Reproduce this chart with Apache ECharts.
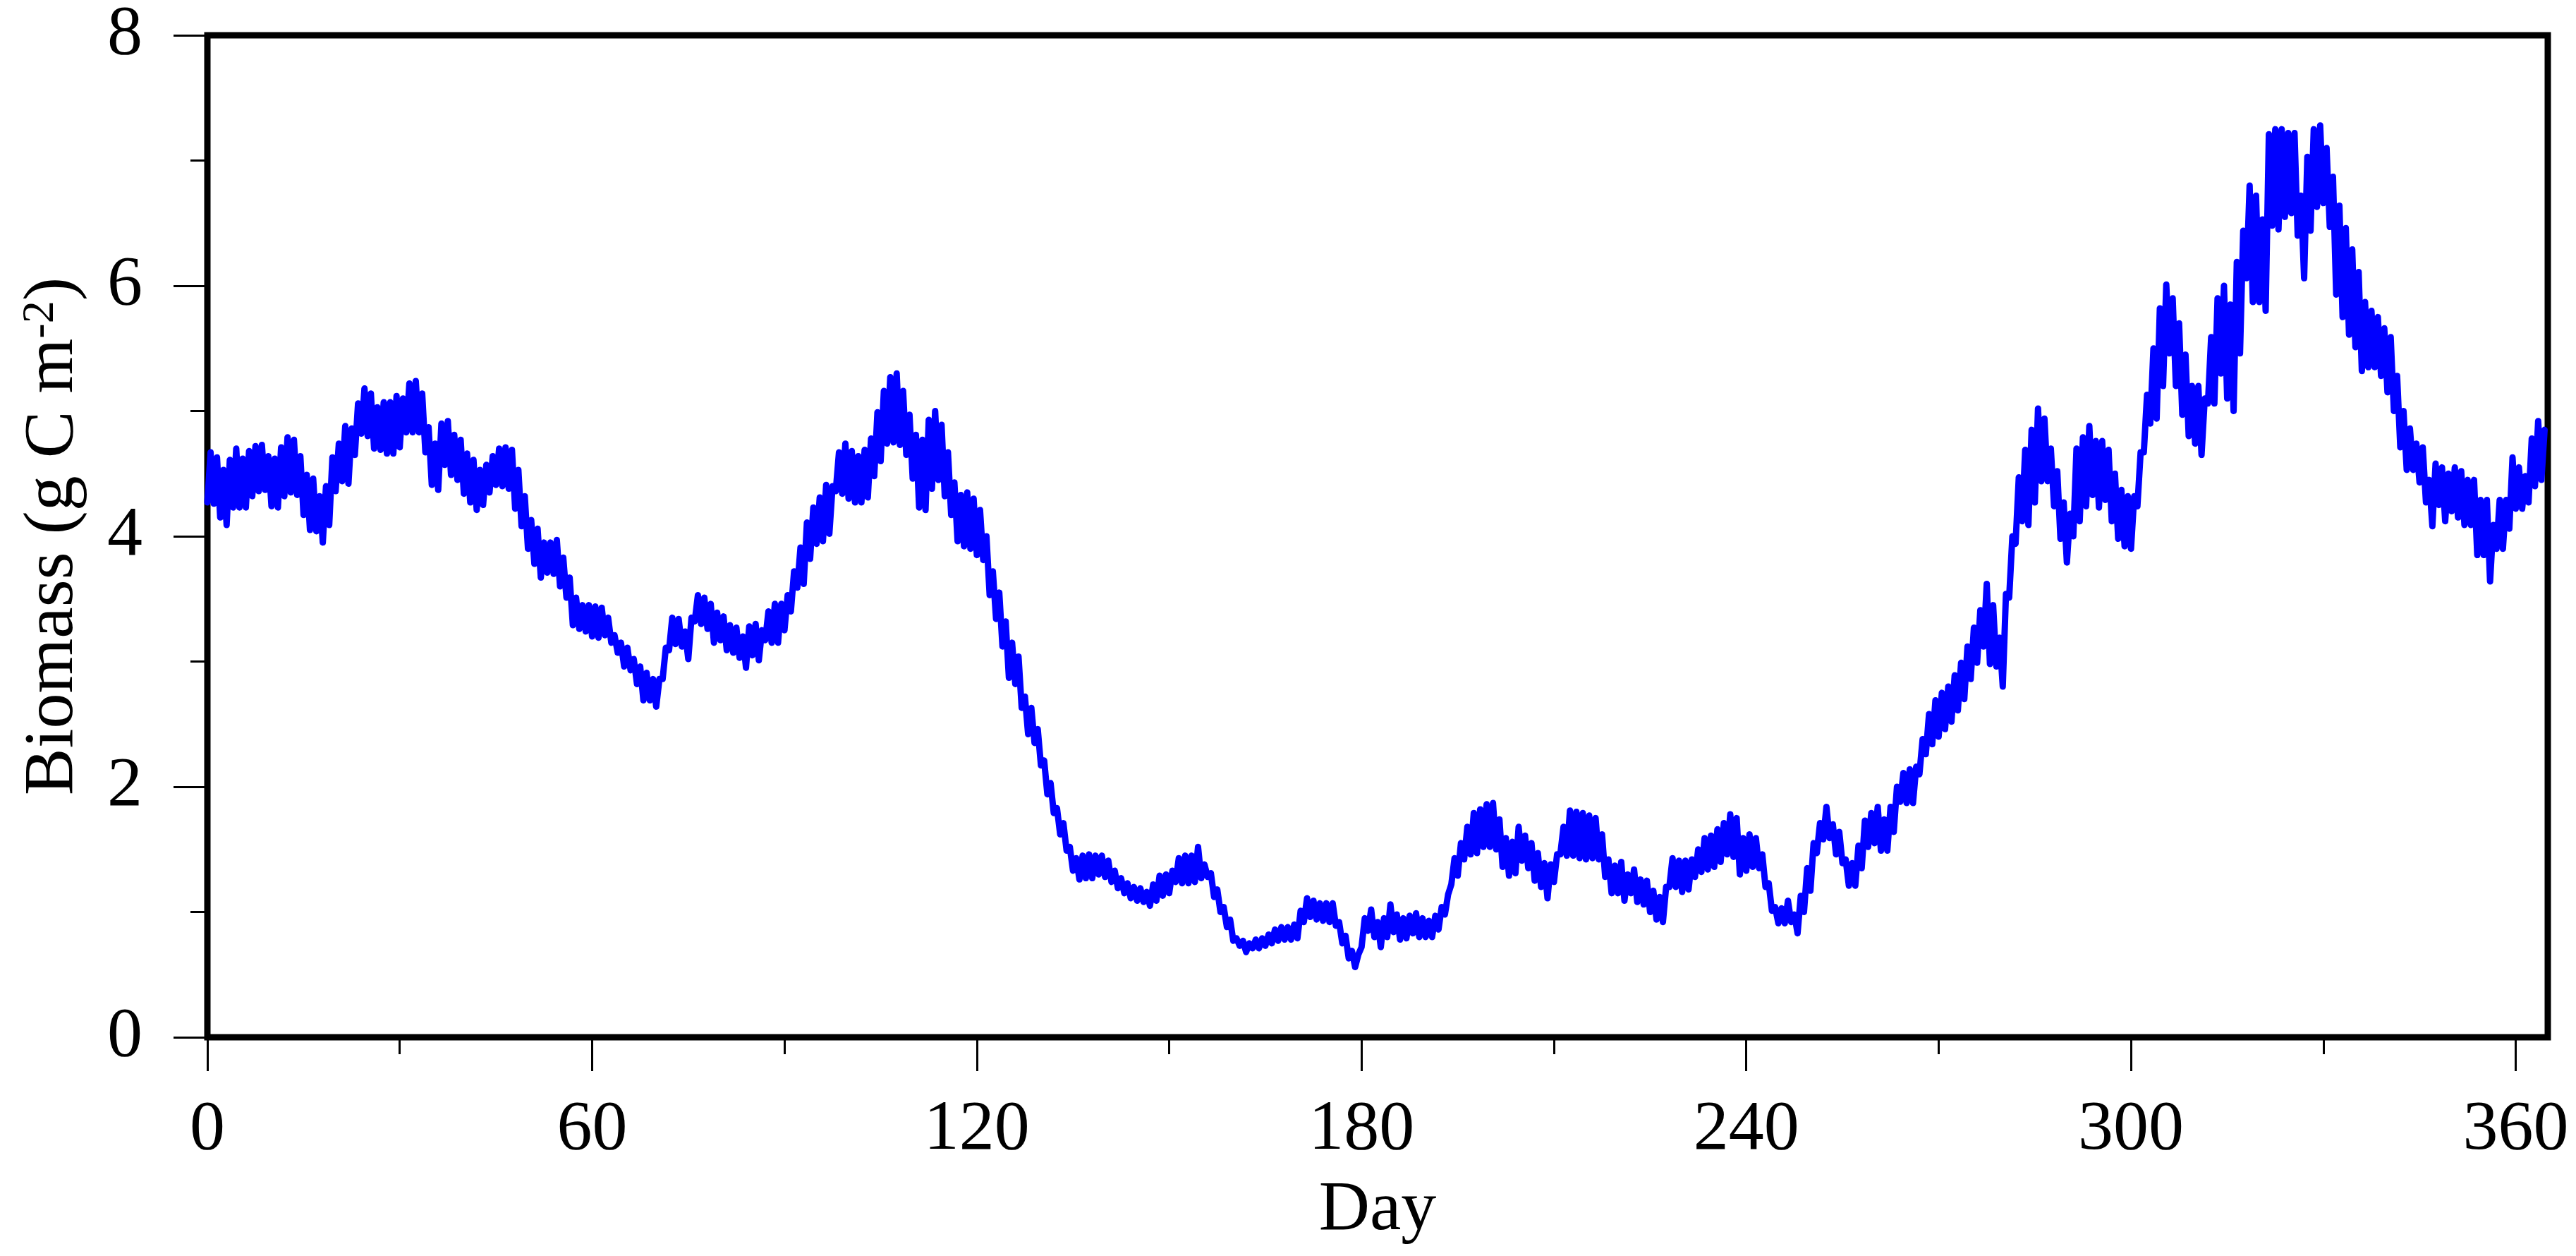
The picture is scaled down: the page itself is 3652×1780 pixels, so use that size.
<!DOCTYPE html>
<html>
<head>
<meta charset="utf-8">
<title>Biomass</title>
<script src="https://cdn.jsdelivr.net/npm/echarts@6/dist/echarts.min.js"></script>
<style>
  html, body { margin: 0; padding: 0; background: #fff; }
  #chart { width: 3652px; height: 1780px; }
</style>
</head>
<body>
<div id="chart"></div>
<script>
// daily lower / upper value of the biomass wiggle (g C m-2), day 0 .. 364
var dayLow = [
  4.27, 4.26, 4.15, 4.09, 4.23, 4.23, 4.23, 4.32, 4.36, 4.37,
  4.24, 4.23, 4.32, 4.35, 4.33, 4.17, 4.05, 4.04, 3.95, 4.09,
  4.36, 4.44, 4.42, 4.65, 4.82, 4.80, 4.70, 4.69, 4.66, 4.66,
  4.71, 4.83, 4.83, 4.83, 4.67, 4.41, 4.37, 4.57, 4.49, 4.45,
  4.34, 4.27, 4.21, 4.25, 4.35, 4.41, 4.40, 4.38, 4.22, 4.08,
  3.90, 3.78, 3.67, 3.71, 3.70, 3.60, 3.51, 3.29, 3.26, 3.24,
  3.20, 3.19, 3.21, 3.15, 3.07, 2.96, 2.93, 2.82, 2.69, 2.69,
  2.64, 2.86, 3.09, 3.14, 3.12, 3.02, 3.32, 3.30, 3.26, 3.15,
  3.17, 3.09, 3.07, 3.03, 2.95, 3.05, 3.01, 3.17, 3.15, 3.15,
  3.25, 3.40, 3.59, 3.62, 3.82, 3.94, 3.96, 4.02, 4.36, 4.34,
  4.30, 4.27, 4.27, 4.31, 4.48, 4.60, 4.74, 4.75, 4.73, 4.65,
  4.46, 4.23, 4.21, 4.38, 4.45, 4.32, 4.17, 3.96, 3.92, 3.90,
  3.85, 3.81, 3.53, 3.34, 3.12, 2.87, 2.82, 2.63, 2.42, 2.35,
  2.17, 1.94, 1.79, 1.62, 1.49, 1.33, 1.26, 1.27, 1.27, 1.30,
  1.28, 1.24, 1.19, 1.15, 1.11, 1.09, 1.08, 1.05, 1.09, 1.13,
  1.15, 1.24, 1.23, 1.23, 1.24, 1.27, 1.28, 1.12, 1.00, 0.88,
  0.77, 0.73, 0.68, 0.71, 0.71, 0.73, 0.75, 0.77, 0.78, 0.78,
  0.79, 0.92, 0.96, 0.94, 0.93, 0.92, 0.89, 0.75, 0.63, 0.56,
  0.72, 0.85, 0.80, 0.72, 0.80, 0.84, 0.78, 0.79, 0.83, 0.80,
  0.80, 0.80, 0.86, 0.98, 1.22, 1.29, 1.42, 1.46, 1.47, 1.52,
  1.52, 1.50, 1.36, 1.29, 1.31, 1.41, 1.35, 1.25, 1.20, 1.11,
  1.24, 1.46, 1.45, 1.45, 1.43, 1.42, 1.43, 1.42, 1.28, 1.15,
  1.15, 1.09, 1.15, 1.08, 1.06, 1.00, 0.94, 0.92, 1.20, 1.20,
  1.16, 1.18, 1.28, 1.32, 1.34, 1.36, 1.40, 1.46, 1.44, 1.30,
  1.33, 1.36, 1.35, 1.20, 1.01, 0.91, 0.91, 0.92, 0.83, 1.00,
  1.17, 1.47, 1.58, 1.59, 1.46, 1.39, 1.21, 1.21, 1.35, 1.52,
  1.55, 1.49, 1.49, 1.64, 1.88, 1.87, 1.87, 2.10, 2.26, 2.34,
  2.40, 2.46, 2.52, 2.61, 2.70, 2.86, 2.99, 3.12, 2.98, 2.96,
  2.80, 3.51, 3.94, 4.12, 4.09, 4.27, 4.44, 4.44, 4.24, 3.98,
  3.79, 4.00, 4.12, 4.24, 4.33, 4.23, 4.29, 4.12, 3.98, 3.92,
  3.90, 4.24, 4.67, 4.90, 4.94, 5.20, 5.46, 5.20, 4.97, 4.80,
  4.74, 4.65, 5.06, 5.06, 5.30, 5.10, 5.00, 5.46, 6.06, 5.87,
  5.87, 5.80, 6.48, 6.45, 6.55, 6.58, 6.40, 6.06, 6.44, 6.63,
  6.66, 6.47, 5.93, 5.75, 5.61, 5.51, 5.32, 5.35, 5.35, 5.28,
  5.15, 5.00, 4.71, 4.53, 4.53, 4.43, 4.27, 4.08, 4.25, 4.12,
  4.20, 4.15, 4.09, 4.09, 3.85, 3.85, 3.64, 3.90, 3.90, 4.06,
  4.22, 4.22, 4.27, 4.40, 4.45
];
var dayHigh = [
  4.67, 4.63, 4.53, 4.61, 4.70, 4.62, 4.68, 4.72, 4.73, 4.64,
  4.62, 4.71, 4.79, 4.77, 4.64, 4.49, 4.46, 4.32, 4.40, 4.63,
  4.74, 4.88, 4.86, 5.06, 5.18, 5.14, 5.03, 5.07, 5.07, 5.12,
  5.10, 5.22, 5.24, 5.14, 4.87, 4.74, 4.90, 4.92, 4.81, 4.77,
  4.66, 4.61, 4.53, 4.57, 4.64, 4.70, 4.71, 4.69, 4.53, 4.32,
  4.13, 4.06, 3.95, 3.95, 3.97, 3.83, 3.67, 3.51, 3.45, 3.45,
  3.44, 3.43, 3.35, 3.21, 3.15, 3.11, 3.02, 2.96, 2.91, 2.86,
  2.86, 3.11, 3.35, 3.34, 3.24, 3.35, 3.53, 3.51, 3.46, 3.39,
  3.36, 3.29, 3.27, 3.20, 3.28, 3.30, 3.25, 3.40, 3.46, 3.46,
  3.53, 3.72, 3.91, 4.11, 4.23, 4.31, 4.41, 4.40, 4.67, 4.74,
  4.68, 4.64, 4.69, 4.78, 4.99, 5.16, 5.27, 5.30, 5.16, 4.97,
  4.81, 4.77, 4.93, 5.00, 4.89, 4.67, 4.43, 4.33, 4.35, 4.30,
  4.21, 4.00, 3.72, 3.55, 3.32, 3.15, 3.04, 2.72, 2.63, 2.46,
  2.21, 2.03, 1.83, 1.71, 1.52, 1.43, 1.45, 1.46, 1.45, 1.45,
  1.41, 1.33, 1.27, 1.23, 1.20, 1.19, 1.16, 1.22, 1.29, 1.30,
  1.33, 1.43, 1.45, 1.45, 1.52, 1.38, 1.31, 1.18, 1.04, 0.94,
  0.79, 0.77, 0.75, 0.78, 0.79, 0.82, 0.86, 0.88, 0.88, 0.90,
  1.01, 1.11, 1.09, 1.07, 1.07, 1.07, 0.92, 0.81, 0.69, 0.66,
  0.95, 1.02, 0.92, 0.95, 1.06, 0.98, 0.95, 0.97, 0.99, 0.95,
  0.93, 0.97, 1.04, 1.14, 1.43, 1.55, 1.68, 1.79, 1.82, 1.86,
  1.87, 1.74, 1.59, 1.56, 1.68, 1.61, 1.55, 1.47, 1.39, 1.38,
  1.46, 1.68, 1.81, 1.80, 1.79, 1.77, 1.75, 1.62, 1.42, 1.37,
  1.40, 1.30, 1.34, 1.26, 1.25, 1.17, 1.12, 1.20, 1.43, 1.41,
  1.41, 1.42, 1.50, 1.59, 1.61, 1.66, 1.71, 1.78, 1.75, 1.59,
  1.62, 1.59, 1.46, 1.23, 1.04, 1.03, 1.09, 0.98, 1.13, 1.35,
  1.55, 1.71, 1.84, 1.70, 1.64, 1.42, 1.39, 1.53, 1.73, 1.79,
  1.84, 1.74, 1.84, 2.00, 2.11, 2.14, 2.16, 2.38, 2.58, 2.69,
  2.75, 2.80, 2.89, 2.99, 3.12, 3.27, 3.41, 3.62, 3.45, 3.19,
  3.54, 4.00, 4.47, 4.69, 4.85, 5.02, 4.94, 4.70, 4.52, 4.27,
  4.18, 4.70, 4.79, 4.88, 4.76, 4.76, 4.69, 4.50, 4.37, 4.32,
  4.32, 4.67, 5.13, 5.50, 5.82, 6.01, 5.90, 5.70, 5.45, 5.20,
  5.20, 5.10, 5.59, 5.90, 6.00, 5.85, 6.19, 6.44, 6.80, 6.72,
  6.53, 7.21, 7.25, 7.25, 7.22, 7.22, 6.72, 7.03, 7.25, 7.28,
  7.10, 6.87, 6.64, 6.46, 6.29, 6.11, 5.87, 5.80, 5.75, 5.66,
  5.59, 5.28, 5.00, 4.86, 4.74, 4.71, 4.45, 4.58, 4.55, 4.50,
  4.55, 4.52, 4.45, 4.45, 4.29, 4.29, 4.09, 4.29, 4.29, 4.63,
  4.55, 4.48, 4.78, 4.92, 4.85
];

var xMajorTicks = [0, 60, 120, 180, 240, 300, 360];
var xMinorTicks = [30, 90, 150, 210, 270, 330];
var yMajorTicks = [0, 2, 4, 6, 8];
var yMinorTicks = [1, 3, 5, 7];

var FONT = '"Liberation Serif", "Times New Roman", serif';

// low then high within each day gives the daily wiggle
var biomass = [];
for (var i = 0; i < dayLow.length; i++) {
  biomass.push([i, dayLow[i]]);
  biomass.push([i + 0.5, dayHigh[i]]);
}

var chart = echarts.init(document.getElementById('chart'), null, { renderer: 'canvas' });

var option = {
  backgroundColor: '#ffffff',
  animation: false,
  grid: {
    left: 294,
    top: 47,
    width: 3318,
    height: 1423,
    show: true,
    borderColor: '#000',
    borderWidth: 9,
    backgroundColor: 'transparent'
  },
  xAxis: [{
    type: 'value',
    min: 0,
    max: 365,
    interval: 60,
    name: 'Day',
    nameLocation: 'middle',
    nameGap: 196,
    nameTextStyle: { fontFamily: FONT, fontSize: 100, color: '#000' },
    axisLine: { show: false },
    axisTick: {
      show: true,
      inside: false,
      length: 48,
      customValues: xMajorTicks,
      lineStyle: { color: '#000', width: 3 }
    },
    axisLabel: {
      show: true,
      margin: 82,
      customValues: xMajorTicks,
      fontFamily: FONT,
      fontSize: 100,
      color: '#000'
    },
    splitLine: { show: false }
  }, {
    type: 'value',
    min: 0,
    max: 365,
    position: 'bottom',
    axisLine: { show: false },
    axisTick: {
      show: true,
      length: 24,
      customValues: xMinorTicks,
      lineStyle: { color: '#000', width: 3 }
    },
    axisLabel: { show: false },
    splitLine: { show: false }
  }],
  yAxis: [{
    type: 'value',
    min: 0,
    max: 8,
    interval: 2,
    name: 'Biomass (g C m{sup|-2})',
    nameLocation: 'middle',
    nameRotate: 90,
    nameGap: 168,
    nameTextStyle: {
      fontFamily: FONT,
      fontSize: 100,
      color: '#000',
      rich: {
        sup: {
          fontFamily: FONT,
          fontSize: 64,
          color: '#000',
          verticalAlign: 'top',
          padding: [0, 0, 30, 0]
        }
      }
    },
    axisLine: { show: false },
    axisTick: {
      show: true,
      length: 48,
      customValues: yMajorTicks,
      lineStyle: { color: '#000', width: 3 }
    },
    axisLabel: {
      show: true,
      margin: 92,
      customValues: yMajorTicks,
      fontFamily: FONT,
      fontSize: 100,
      color: '#000'
    },
    splitLine: { show: false }
  }, {
    type: 'value',
    min: 0,
    max: 8,
    position: 'left',
    axisLine: { show: false },
    axisTick: {
      show: true,
      length: 24,
      customValues: yMinorTicks,
      lineStyle: { color: '#000', width: 3 }
    },
    axisLabel: { show: false },
    splitLine: { show: false }
  }],
  series: [{
    name: 'Biomass',
    type: 'line',
    xAxisIndex: 0,
    yAxisIndex: 0,
    data: biomass,
    showSymbol: false,
    symbol: 'none',
    smooth: false,
    lineStyle: {
      color: '#0000ff',
      width: 9,
      cap: 'round',
      join: 'round'
    }
  }]
};

chart.setOption(option);
</script>
</body>
</html>
